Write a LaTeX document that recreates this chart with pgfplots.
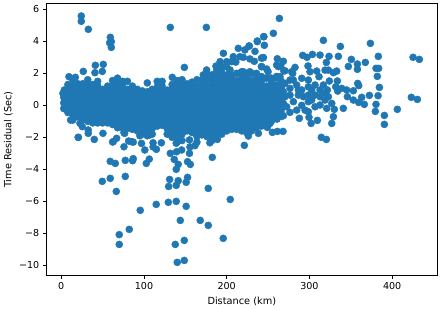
\documentclass[border=0pt]{standalone}
\usepackage{fontspec}
\setmainfont{DejaVu Sans}
\usepackage{pgfplots}
\pgfplotsset{compat=1.18}
\definecolor{mplblue}{HTML}{1F77B4}
\begin{document}
\begin{tikzpicture}
\path[use as bounding box] (-46.3bp,-33.7bp) rectangle (394.7bp,275.3bp);
\begin{axis}[
  at={(0,0)},anchor=south west,
  scale only axis,width=391bp,height=271.6bp,
  xmin=-18.1,xmax=454.6,ymin=-10.62,ymax=6.35,
  xtick={0,100,200,300,400},
  ytick={-10,-8,-6,-4,-2,0,2,4,6},
  yticklabels={−10,−8,−6,−4,−2,0,2,4,6},
  tick align=outside,tick pos=left,
  major tick length=3.5bp,
  tick style={black,line width=0.8bp},
  axis line style={line width=0.8bp},
  ticklabel style={font=\fontsize{9.6}{11}\selectfont},
  /pgf/number format/assume math mode=true,
  xlabel={Distance (km)},ylabel={Time Residual (Sec)},
  label style={font=\fontsize{9.8}{11}\selectfont},
  xlabel style={at={(axis description cs:0.5,0)},anchor=north,yshift=-18.5bp},
  ylabel style={at={(axis description cs:0,0.5)},anchor=south,yshift=30bp},
  clip=false
]
\addplot[only marks,mark=*,mark size=3.55bp,mark options={fill=mplblue,draw=none},color=mplblue] coordinates {
% upper outliers
(24.2,5.58)(24.2,5.25)(32.7,4.75)(59.3,4.25)(60.5,3.98)(58.5,3.9)(60.5,3.62)(131.8,4.87)(175.4,4.87)(148.8,2.37)(134.2,1.75)(41.2,2.5)(50.8,2.56)(26.6,2.12)(49.6,2.12)(40.7,2.04)(9.3,1.79)(3.7,0.96)
% lower outliers
(20.5,-2.0)(39.9,-2.13)(32.6,-1.75)(50.4,-1.75)(62,-2.29)(66.9,-2.06)(75.8,-2.59)(76.6,-1.75)(87,-2.3)(81.4,-2.23)(97,-2.38)(101,-2.79)(111,-2.34)(115,-2.75)(111,-2.6)(121,-2.34)(131.8,-3.0)(139.4,-2.9)(145.5,-2.79)(155,-3.0)(161.6,-2.52)(155.6,-2.6)(182.6,-3.25)(188.6,-2.13)(179.7,-2.34)
(59.2,-3.5)(65.3,-3.63)(77.4,-3.44)(87,-3.33)(86.2,-3.46)(102.8,-3.63)(106.4,-3.36)(136.6,-3.38)(141.4,-3.69)(139,-4.0)(152.7,-3.52)(156,-3.69)(49.6,-4.75)(59.2,-4.56)(77.4,-4.44)(66.5,-5.38)(131,-4.63)(129.8,-5.07)(141.4,-4.71)(139,-5.0)(152.7,-4.5)(151,-4.81)(177.7,-5.19)(204.3,-5.88)(114.8,-6.19)(129.4,-6.06)(139,-6.0)(151,-6.31)(95.5,-6.56)(143.9,-7.19)(168,-7.19)(177.7,-7.5)(82.2,-7.75)(70.1,-8.08)(70.1,-8.69)(195.8,-8.31)(148.7,-8.44)(137.8,-8.69)(148.7,-9.69)(140.2,-9.81)
(11.3,-0.92)(14,-0.92)(22.6,-1.12)(25.4,-1.33)(32.6,-1.54)(20.6,-2.0)(62.9,-2.27)(75.8,-1.7)(85,-2.27)(107,-1.85)(95,-1.9)(139,-2.37)(155,-2.16)
% right side
(263.7,5.43)(256.4,4.5)(244.7,4.29)(237,3.98)(245.5,3.75)(227,3.7)(234.2,3.37)(244.3,2.98)(242,2.95)(233.4,2.75)(261.2,2.91)(268.5,2.75)(260.4,2.52)(265.3,2.46)(270.5,2.16)(282.6,2.37)(279.8,2.0)(242.3,2.41)(248.3,2.27)
(316.9,4.06)(337.4,3.68)(373.7,3.87)(291.9,3.12)(297.1,3.0)(303.6,3.18)(312.8,3.14)(323.7,3.06)(335,3.06)(320.5,2.68)(298.3,2.46)(350.7,2.87)(347.1,2.43)(358,2.58)(358,2.25)(367.6,2.68)(383.3,3.06)(380.5,2.31)(383.7,2.31)(382.1,1.81)(384.6,1.12)(383,0.6)(425.3,3.0)(432.9,2.87)(423.2,0.5)(430.5,0.37)(406.3,-0.25)(380.5,0.06)(379.7,-0.38)(390.6,-0.63)(390.6,-1.19)(366.4,0.06)(372.5,0.62)(363.2,0.5)(359.6,0.18)(353.1,0.33)(345.9,0.54)(353.1,0.91)(358.4,1.37)(359.6,1.23)(345,0.96)(339,1.06)(333.8,1.52)(331.8,1.16)(334.2,0.89)(333,2.14)(329,2.04)(322.9,2.2)(318.9,2.2)(308.8,2.14)(311.6,1.79)(324.1,1.52)(341,-0.19)(330.1,-0.25)(320.9,-0.19)(327,0.12)(329,-0.71)(327,-1.13)(309.6,-0.94)(302,-1.13)(299.5,-0.75)(287.8,-0.81)(276.5,-0.44)(268.5,-0.65)(260.8,-0.86)(252.4,-1.13)(249.1,-1.38)(268.1,-1.63)(261.2,-1.63)(255.2,-1.69)(238.3,-1.75)(226.2,-1.92)(221.3,-2.5)(314.4,-2.0)(320.5,-2.13)
(276.5,1.58)(270.5,1.37)(290.7,1.69)(298.7,1.58)(300.7,2.1)(276.5,1.06)(268.5,0.85)(284.6,1.27)(290.7,0.96)(298.7,1.16)(306.8,1.27)(316.9,1.27)(312.8,0.96)(318.9,0.75)(306.8,0.64)(298.7,0.64)(292.7,0.54)(286.6,0.64)(276.5,0.64)(270.5,0.54)(280.6,0.23)(272.5,-0.09)(290.7,0)(298.7,0.23)(294.7,-0.3)(306.8,-0.09)(312.8,0.02)(302.7,0.33)(318.9,0.33)(268.5,0.12)(262.5,-0.19)(284.6,-0.3)(264.5,-0.5)(298.7,-0.4)(286.6,0.96)(302.7,0.96)(312.8,0.54)(322.9,0.54)(321.7,0.96)(280.6,1.58)(260.4,1.79)(264.5,1.79)
% rising upper band
(245,4.29)(237,4.02)(227.3,3.71)(214,3.56)(222,3.46)(196,3.25)(208,3.04)(216,3.04)(192,2.73)(200,2.73)(206,2.73)(244,2.98)(262.4,2.42)(242,2.42)(250,2.1)(269,2.15)(278.5,2.1)(260.4,1.8)(175.7,2.21)(194,2.42)(190,2.21)(183.8,1.9)(171.7,1.9)(204,2.21)(220,2.1)(228,2.1)(211,2.7)(187,2.45)(220,3.0)(228,2.9)
% dense body, column by column
(3,-0.2)(3,0.15)(3,0.5)(2,0.75)
(8,-0.45)(8,-0.1)(8,0.25)(8,0.6)(8,0.95)(8,1.3)
(14,-0.6)(14,-0.25)(14,0.1)(14,0.45)(14,0.8)(14,1.2)(14,1.6)
(20,-0.7)(20,-0.35)(20,0)(20,0.35)(20,0.7)(20,1.05)(20,1.35)(17,1.75)
(26,-0.9)(26,-0.55)(26,-0.2)(26,0.15)(26,0.5)(26,0.85)(26,1.2)(26,1.35)
(32,-1)(32,-0.65)(32,-0.3)(32,0.05)(32,0.4)(32,0.75)(32,1.1)(32,1.35)(32,1.6)
(38,-1.1)(38,-0.75)(38,-0.4)(38,-0.05)(38,0.3)(38,0.65)(38,1)(38,1.3)
(44,-1.1)(44,-0.9)(44,-0.55)(44,-0.2)(44,0.15)(44,0.5)(44,0.85)(44,1.2)(44,1.5)
(50,-1.1)(50,-0.75)(50,-0.4)(50,-0.05)(50,0.3)(50,0.65)(50,1)
(56,-1.1)(56,-0.9)(56,-0.55)(56,-0.2)(56,0.15)(56,0.5)(56,0.85)(56,1.2)
(62,-1.2)(62,-0.85)(62,-0.5)(62,-0.15)(62,0.2)(62,0.55)(62,0.9)(62,1.25)(62,1.55)
(68,-1.4)(68,-1.05)(68,-0.7)(68,-0.35)(68,0)(68,0.35)(68,0.7)(68,1.05)(68,1.4)(68,1.7)
(74,-1.4)(74,-1.2)(74,-0.85)(74,-0.5)(74,-0.15)(74,0.2)(74,0.55)(74,0.9)(74,1.25)(74,1.5)
(80,-1.45)(80,-1.1)(80,-0.75)(80,-0.4)(80,-0.05)(80,0.3)(80,0.65)(80,1)(80,1.5)
(86,-1.5)(86,-1.25)(86,-0.9)(86,-0.55)(86,-0.2)(86,0.15)(86,0.5)(86,0.85)(86,1.2)
(92,-1.6)(92,-1.3)(92,-0.95)(92,-0.6)(92,-0.25)(92,0.1)(92,0.45)(92,0.8)(92,1)
(98,-1.8)(98,-1.5)(98,-1.15)(98,-0.8)(98,-0.45)(98,-0.1)(98,0.25)(98,0.6)(98,0.9)
(104,-1.9)(104,-1.6)(104,-1.25)(104,-0.9)(104,-0.55)(104,-0.2)(104,0.15)(104,0.5)(104,0.85)(104,1.4)
(110,-1.8)(110,-1.45)(110,-1.1)(110,-0.75)(110,-0.4)(110,-0.05)(110,0.3)(110,0.65)(110,1)
(116,-1.3)(116,-0.95)(116,-0.6)(116,-0.25)(116,0.1)(116,0.45)(116,0.8)(116,1.15)(116,1.5)
(122,-1.25)(122,-0.9)(122,-0.55)(122,-0.2)(122,0.15)(122,0.5)(122,0.85)(122,1.2)(122,1.5)
(128,-1.8)(128,-1.45)(128,-1.1)(128,-0.75)(128,-0.4)(128,-0.05)(128,0.3)(128,0.65)(128,0.95)
(134,-2)(134,-1.65)(134,-1.3)(134,-0.95)(134,-0.6)(134,-0.25)(134,0.1)(134,0.45)(134,0.8)(134,1.1)(134,1.3)
(140,-2.3)(140,-1.95)(140,-1.6)(140,-1.25)(140,-0.9)(140,-0.55)(140,-0.2)(140,0.15)(140,0.5)(140,0.85)(140,1.2)(140,1.55)
(146,-2.2)(146,-1.8)(146,-1.45)(146,-1.1)(146,-0.75)(146,-0.4)(146,-0.05)(146,0.3)(146,0.65)(146,1)(146,1.3)(146,1.6)
(152,-1.6)(152,-1.25)(152,-0.9)(152,-0.55)(152,-0.2)(152,0.15)(152,0.5)(152,0.85)(152,1.2)(152,1.35)
(158,-1.7)(158,-1.35)(158,-1)(158,-0.65)(158,-0.3)(158,0.05)(158,0.4)(158,0.75)(158,1.1)(158,1.45)
(164,-2.3)(164,-1.95)(164,-1.6)(164,-1.25)(164,-0.9)(164,-0.55)(164,-0.2)(164,0.15)(164,0.5)(164,0.85)(164,1.2)(164,1.6)
(170,-1.85)(170,-1.5)(170,-1.15)(170,-0.8)(170,-0.45)(170,-0.1)(170,0.25)(170,0.6)(170,0.95)(170,1.3)(170,1.6)
(176,-1.95)(176,-1.6)(176,-1.25)(176,-0.9)(176,-0.55)(176,-0.2)(176,0.15)(176,0.5)(176,0.85)(176,1.2)(176,1.6)(176,2)
(182,-2.2)(182,-1.85)(182,-1.5)(182,-1.15)(182,-0.8)(182,-0.45)(182,-0.1)(182,0.25)(182,0.6)(182,0.95)(182,1.3)(182,1.65)(182,1.9)
(188,-2)(188,-1.65)(188,-1.3)(188,-0.95)(188,-0.6)(188,-0.25)(188,0.1)(188,0.45)(188,0.8)(188,1.15)(188,1.5)(188,1.85)(188,2.2)
(194,-1.8)(194,-1.45)(194,-1.1)(194,-0.75)(194,-0.4)(194,-0.05)(194,0.3)(194,0.65)(194,1)(194,1.35)(194,1.7)(194,2.05)(194,2.4)
(200,-1.6)(200,-1.25)(200,-0.9)(200,-0.55)(200,-0.2)(200,0.15)(200,0.5)(200,0.85)(200,1.2)(200,1.55)(200,1.9)(200,2.4)
(206,-1.5)(206,-1.15)(206,-0.8)(206,-0.45)(206,-0.1)(206,0.25)(206,0.6)(206,0.95)(206,1.3)(206,1.65)(206,1.9)
(212,-1.5)(212,-1.25)(212,-0.9)(212,-0.55)(212,-0.2)(212,0.15)(212,0.5)(212,0.85)(212,1.2)(212,1.55)(212,2)
(218,-1.6)(218,-1.25)(218,-0.9)(218,-0.55)(218,-0.2)(218,0.15)(218,0.5)(218,0.85)(218,1.2)(218,1.55)(218,1.85)(218,2.1)
(224,-1.7)(224,-1.35)(224,-1)(224,-0.65)(224,-0.3)(224,0.05)(224,0.4)(224,0.75)(224,1.1)(224,1.45)(224,1.8)(224,2)
(230,-1.6)(230,-1.25)(230,-0.9)(230,-0.55)(230,-0.2)(230,0.15)(230,0.5)(230,0.85)(230,1.2)(230,1.55)(230,2)
(236,-1.4)(236,-1.1)(236,-0.75)(236,-0.4)(236,-0.05)(236,0.3)(236,0.65)(236,1)(236,1.35)(236,1.7)(236,2)
(242,-1.3)(242,-0.95)(242,-0.6)(242,-0.25)(242,0.1)(242,0.45)(242,0.8)(242,1.15)(242,1.5)(242,1.8)
(248,-1.2)(248,-0.9)(248,-0.55)(248,-0.2)(248,0.15)(248,0.5)(248,0.85)(248,1.2)(248,1.7)
(254,-1)(254,-0.65)(254,-0.3)(254,0.05)(254,0.4)(254,0.75)(254,1.1)(254,1.45)(254,1.7)
(260,-0.8)(260,-0.5)(260,-0.15)(260,0.2)(260,0.55)(260,0.9)(260,1.25)(260,1.7)
(266,-0.7)(266,-0.3)(266,0.05)(266,0.4)(266,0.75)(266,1.1)(266,1.5)
};
\end{axis}
\end{tikzpicture}
\end{document}
